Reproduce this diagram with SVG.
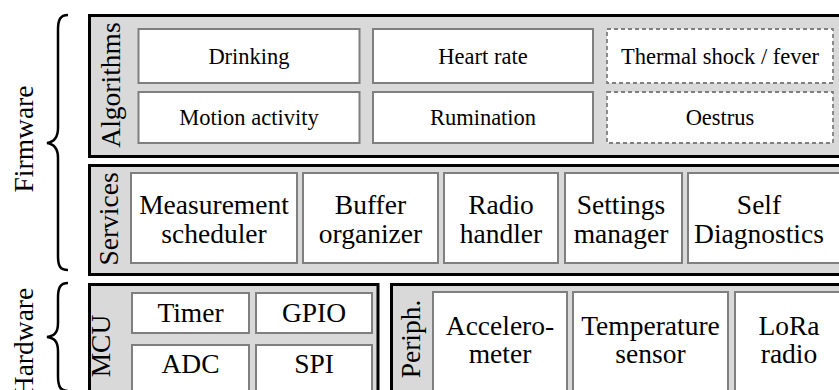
<svg xmlns="http://www.w3.org/2000/svg" width="839" height="390" viewBox="0 0 839 390" font-family="'Liberation Serif', 'Times New Roman', serif">
<style>
.panel{fill:#d9d9d9;stroke:#000;stroke-width:3}
.box{fill:#fff;stroke:#7f7f7f;stroke-width:2}
.dash{fill:#fff;stroke:#7f7f7f;stroke-width:1.8;stroke-dasharray:4,3}
text{font-family:'Liberation Serif','Times New Roman',serif;fill:#000;text-anchor:middle}
.big{font-size:27.5px}
.sm{font-size:22.5px}
.brace{fill:none;stroke:#000;stroke-width:2.5}
</style>
<rect width="839" height="390" fill="#fff"/>

<g id="firmware-label">
<path class="brace" d="M68,15 C60,15 58,20 58,30 L58,128 C58,138 54,142 47,143 C54,144 58,148 58,158 L58,256 C58,266 60,270 68,270"/>
<text class="big" font-family="Liberation Serif" transform="translate(33,139) rotate(-90)">Firmware</text>
</g>
<g id="hardware-label">
<path class="brace" d="M68,283 C60,283 58,288 58,298 L58,323 C58,333 54,336 47,337 C54,338 58,341 58,351 L58,376 C58,386 60,391 68,391"/>
<text class="big" font-family="Liberation Serif" transform="translate(33,342) rotate(-90)">Hardware</text>
</g>

<g id="algorithms">
<rect class="panel" x="89.5" y="15.5" width="800" height="141"/>
<text class="big" font-family="Liberation Serif" transform="translate(120,85) rotate(-90)">Algorithms</text>
</g>
<g id="drinking"><rect class="box" x="138.5" y="29" width="221" height="54"/><text class="sm" font-family="Liberation Serif" x="249" y="63.5">Drinking</text></g>
<g id="heart-rate"><rect class="box" x="373" y="29" width="220" height="54"/><text class="sm" font-family="Liberation Serif" x="483" y="63.5">Heart rate</text></g>
<g id="thermal"><rect class="dash" x="607" y="29" width="226" height="54"/><text class="sm" font-family="Liberation Serif" x="720" y="63.5">Thermal shock / fever</text></g>
<g id="motion"><rect class="box" x="138.5" y="92" width="221" height="51"/><text class="sm" font-family="Liberation Serif" x="249" y="125">Motion activity</text></g>
<g id="rumination"><rect class="box" x="373" y="92" width="220" height="51"/><text class="sm" font-family="Liberation Serif" x="483" y="125">Rumination</text></g>
<g id="oestrus"><rect class="dash" x="607" y="92" width="226" height="51"/><text class="sm" font-family="Liberation Serif" x="720" y="125">Oestrus</text></g>

<g id="services">
<rect class="panel" x="89.5" y="165.5" width="800" height="109"/>
<text class="big" font-family="Liberation Serif" transform="translate(118,219) rotate(-90)">Services</text>
</g>
<g id="measurement"><rect class="box" x="131" y="173" width="166" height="90"/><text class="big" font-family="Liberation Serif" x="214" y="214">Measurement</text><text class="big" font-family="Liberation Serif" x="214" y="243">scheduler</text></g>
<g id="buffer"><rect class="box" x="303" y="173" width="135" height="90"/><text class="big" font-family="Liberation Serif" x="370.5" y="214">Buffer</text><text class="big" font-family="Liberation Serif" x="370.5" y="243">organizer</text></g>
<g id="radio"><rect class="box" x="444" y="173" width="114" height="90"/><text class="big" font-family="Liberation Serif" x="501" y="214">Radio</text><text class="big" font-family="Liberation Serif" x="501" y="243">handler</text></g>
<g id="settings"><rect class="box" x="565" y="173" width="117" height="90"/><text class="big" font-family="Liberation Serif" x="621" y="214">Settings</text><text class="big" font-family="Liberation Serif" x="621" y="243">manager</text></g>
<g id="self-diag"><rect class="box" x="688" y="173" width="160" height="90"/><text class="big" font-family="Liberation Serif" x="759" y="214">Self</text><text class="big" font-family="Liberation Serif" x="759" y="243">Diagnostics</text></g>

<g id="mcu">
<rect class="panel" x="89.5" y="284.5" width="288.5" height="200"/>
<text class="big" font-family="Liberation Serif" transform="translate(110,346) rotate(-90)">MCU</text>
</g>
<g id="timer"><rect class="box" x="132" y="293" width="117" height="40"/><text class="big" font-family="Liberation Serif" x="190.5" y="322">Timer</text></g>
<g id="gpio"><rect class="box" x="256" y="293" width="116" height="40"/><text class="big" font-family="Liberation Serif" x="314" y="322">GPIO</text></g>
<g id="adc"><rect class="box" x="132" y="345" width="117" height="60"/><text class="big" font-family="Liberation Serif" x="190.5" y="373">ADC</text></g>
<g id="spi"><rect class="box" x="256" y="345" width="116" height="60"/><text class="big" font-family="Liberation Serif" x="314" y="373">SPI</text></g>

<g id="periph">
<rect class="panel" x="391.5" y="284.5" width="600" height="200"/>
<text class="big" font-family="Liberation Serif" transform="translate(420,339) rotate(-90)">Periph.</text>
</g>
<g id="accel"><rect class="box" x="433" y="292" width="134" height="120"/><text class="big" font-family="Liberation Serif" x="500" y="335">Accelero-</text><text class="big" font-family="Liberation Serif" x="500" y="363">meter</text></g>
<g id="temp"><rect class="box" x="573" y="292" width="155" height="120"/><text class="big" font-family="Liberation Serif" x="650.5" y="335">Temperature</text><text class="big" font-family="Liberation Serif" x="650.5" y="363">sensor</text></g>
<g id="lora"><rect class="box" x="735" y="292" width="150" height="120"/><text class="big" font-family="Liberation Serif" x="789" y="335">LoRa</text><text class="big" font-family="Liberation Serif" x="789" y="363">radio</text></g>

<g id="connectors"></g>
</svg>
